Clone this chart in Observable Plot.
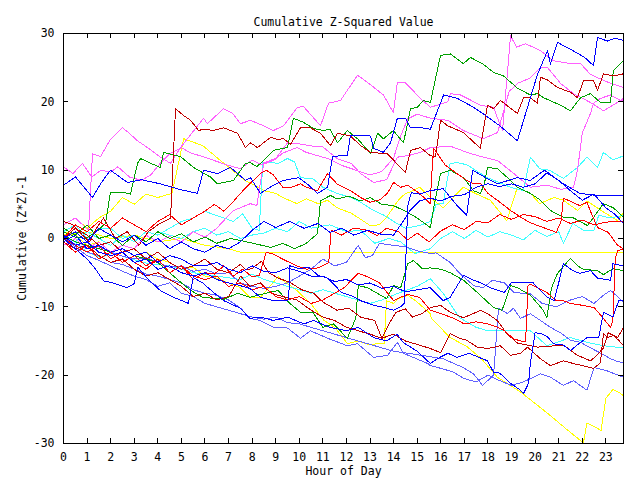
<!DOCTYPE html>
<html>
<head>
<meta charset="utf-8">
<script src="https://cdn.jsdelivr.net/npm/d3@7"></script>
<script src="https://cdn.jsdelivr.net/npm/@observablehq/plot@0.6"></script>
<style>
  html, body { margin: 0; padding: 0; background: white; }
</style>
</head>
<body>
<div id="chart"></div>
<script>
// ---- Data: each series is a list of [hour, cumulative (Z*Z)-1] ----
const hourTicks = d3.range(0, 24);
const valueTicks = [-30, -20, -10, 0, 10, 20, 30];

const B1 = [[0,7.8],[0.51,9],[1.23,6],[1.57,8],[1.99,10],[2.71,8.2],[3.3,8.6],[4.11,8],[4.9,7.2],[5.68,6.6],[5.94,10],[6.53,9.5],[7.08,10.4],[7.72,8.5],[7.93,8.9],[8.35,6.6],[8.9,7.8],[9.33,8.5],[9.97,8.9],[10.4,7.8],[10.77,6.6],[11.2,7.5],[11.41,12],[12.04,12.2],[12.17,15.1],[13.02,15],[13.15,13.2],[13.57,12.6],[13.87,14],[14.16,17.6],[14.5,17.6],[14.72,16.2],[15.2,16.2],[15.56,16],[16.12,21],[16.71,20.5],[17.39,19.2],[17.9,18],[18.5,16.5],[19.25,14.3],[20.1,24],[20.53,27.5],[20.65,25.5],[20.95,28.7],[21.6,27.5],[22.1,26.5],[22.48,25.3],[22.65,29.4],[23.07,28.9],[23.4,29.3],[23.75,29]];
const B2 = [[0,0.5],[0.5,-1],[1,-0.5],[1.5,-2],[2,-2.5],[2.5,-2],[3,-3.5],[3.5,-3],[4,-4.5],[4.5,-4],[5,-5],[5.5,-5.5],[6,-5],[6.5,-6],[7,-6.5],[7.5,-6.9],[7.9,-7.3],[8.35,-8.6],[8.9,-9.1],[9.55,-9],[9.6,-4],[10,-4.4],[10.4,-4.2],[10.8,-5.4],[11.2,-5.8],[11.8,-7.9],[12.3,-8.5],[12.6,-9.1],[13.2,-9.8],[13.6,-10.1],[14,-10.5],[14.3,-10],[14.45,-9.5],[14.6,4.8],[14.75,6.7],[15.1,6.5],[15.56,7],[16.1,7.3],[16.7,4.8],[17.1,3.4],[17.35,10],[17.9,8.9],[18.4,8],[19.25,8.9],[19.8,8.5],[20.4,10],[21.2,8],[21.9,6.6],[22.6,6.3],[23.2,6.3],[23.75,6.3]];
const B3 = [[0,0],[0.5,-1.5],[1,-3],[1.3,-4.2],[1.7,-6.2],[2.1,-6.5],[2.7,-7.2],[3,-6.6],[3.15,-4.2],[3.6,-6],[4.1,-7.6],[4.6,-8.5],[5.3,-9.5],[5.5,-5.7],[5.9,-6.5],[6.4,-8],[6.8,-9.1],[7.5,-10.2],[7.9,-11.7],[8.35,-11.5],[8.9,-12],[9.5,-11.5],[10.2,-12.5],[10.6,-12],[11.3,-13],[12,-13.5],[12.5,-13],[13.15,-14.5],[13.7,-15],[14.15,-14],[14.4,-15.2],[15,-16.5],[15.56,-18.3],[15.85,-17.6],[16.3,-16.8],[16.7,-17.4],[17.2,-16.8],[17.98,-17.9],[18.24,-19.6],[18.5,-19.7],[18.96,-21.2],[19.38,-22.2],[19.51,-22.7],[19.72,-21.2],[19.8,-18.3],[20,-13.8],[20.23,-13.9],[20.5,-14.3],[20.78,-15.4],[21.2,-15.6],[21.5,-16.4],[21.93,-15.2],[22.2,-14.5],[22.7,-14.5],[22.9,-10.8],[23.3,-11.5],[23.55,-9.1],[23.75,-9]];
const B4 = [[0,-0.5],[0.5,0.5],[1,-1.5],[1.5,-1],[2,-2],[2.5,-1.5],[3,-2.5],[3.5,-2],[4,-3.5],[4.5,-2.5],[5,-3],[5.5,-4],[6,-4],[6.5,-3.5],[7,-4.5],[7.5,-5],[8,-4],[8.5,-4.8],[9,-5],[9.5,-4.3],[10,-4.8],[10.5,-5.5],[11,-5.5],[11.5,-6.3],[12,-6],[12.5,-6.8],[13,-6.5],[13.5,-7.3],[14,-7],[14.5,-7.8],[15,-7.5],[15.56,-7.2],[16.1,-9.1],[16.4,-8.6],[16.96,-5.4],[17.4,-6.1],[17.7,-6.5],[18.1,-7.2],[18.7,-7.9],[19,-6.4],[19.5,-6.4],[19.9,-6.4],[20.1,-7.2],[20.53,-8.6],[20.8,-9.1],[20.95,-7.2],[21.2,-3.7],[21.6,-4.7],[21.9,-5.1],[22.35,-4.7],[22.65,-5.8],[23.2,-6.1],[23.3,-3.7],[23.75,-4]];
const B5 = [[0,0],[0.5,1],[1,-0.5],[1.5,1.5],[2,0.5],[2.5,-0.5],[3,0.5],[3.5,-1],[4,0],[4.5,-1.5],[5,-0.5],[5.5,-1.5],[6,-2],[6.5,-1],[7,-1.5],[7.5,-0.5],[8,1.2],[8.5,2.5],[9,1.6],[9.6,2.5],[10.2,1.5],[10.8,2.2],[11.3,0.9],[11.8,1.5],[12.3,0.5],[12.9,1.2],[13.5,0.6],[14,0.5],[14.5,3],[14.7,4.1],[15.1,5.5],[15.56,5.9],[16,5.5],[16.5,6.2],[17,6.4],[17.5,7.5],[18,8],[18.5,7.6],[19,8],[19.5,7.5],[20,8],[20.5,9.6],[21,8.5],[21.5,7],[22,5.6],[22.5,6.5],[23,4.5],[23.4,3.5],[23.75,2.2]];

const S1 = [[0,0],[0.5,-0.8],[1,-1.5],[1.5,-1.2],[2,-2],[2.5,-2.6],[3,-3],[3.5,-2.8],[4,-3.5],[4.5,-4.2],[5,-4],[5.5,-4.8],[6,-4.5],[6.5,-5.2],[7,-5],[7.5,-6.5],[8,-7],[8.5,-7.3],[9,-7],[9.5,-6.5],[10,-5.5],[10.5,-4.5],[11,-3],[11.5,-4],[12,-3.5],[12.5,-1],[12.8,-2.8],[13.1,-2.5],[13.4,-0.7],[14,-1],[14.5,-1.2],[15,-1.8],[15.56,-2.2],[15.8,-2.1],[16.4,-3.5],[16.8,-5.1],[17.4,-6.9],[17.8,-7.2],[18.2,-6.1],[18.7,-6.5],[19.1,-7.9],[19.8,-8.1],[20.3,-9.5],[20.9,-10],[21.5,-9],[22,-8.5],[22.5,-9.5],[22.9,-8.3],[23.2,-7.6],[23.5,-8.5],[23.75,-9.4]];
const S2 = [[0,0],[0.5,-1],[1,-2],[1.5,-2.5],[2,-3.5],[2.5,-3.8],[3,-4.5],[3.5,-5.2],[4,-5.5],[4.5,-6],[5,-6.5],[5.5,-7.5],[6,-8],[6.5,-8.3],[7,-9],[7.51,-10.2],[7.93,-11.7],[8.35,-12],[8.9,-13],[9.5,-13.1],[10.05,-14.6],[10.47,-13.5],[11.2,-14.6],[12.04,-15.7],[12.47,-15.4],[13.15,-17.4],[13.75,-17.1],[14.16,-15.2],[14.42,-16.8],[15.45,-18.3],[15.56,-18.6],[16,-19],[16.5,-19.5],[17,-20.5],[17.5,-21],[18,-20],[18.5,-20.8],[19,-21.5],[19.5,-21],[20.23,-19.8],[20.65,-20.3],[21.2,-21.5],[21.63,-20.8],[22.2,-22.2],[22.5,-18.9],[23,-19.3],[23.75,-20.3]];
const S3 = [[0,0],[0.5,-1.2],[1,-2.5],[1.5,-3.2],[2,-4],[2.5,-4.8],[3,-5.5],[3.5,-6],[4,-7],[4.5,-6.5],[5,-8],[5.5,-8.5],[6,-9.5],[6.5,-10],[7,-10.5],[7.5,-11],[8,-11.5],[8.5,-11.8],[9,-11.5],[9.5,-12.3],[10,-12.5],[11,-13.5],[12,-14.5],[13,-15.5],[14,-16.5],[15,-17],[15.56,-17.3],[16.1,-17.6],[16.96,-18.9],[17.39,-19.8],[17.77,-21.5],[18.24,-20],[18.45,-10.2],[18.83,-11],[19.08,-10.2],[19.38,-11.7],[19.8,-11],[20.23,-12],[20.65,-13],[21.08,-13.8],[21.5,-14.9],[21.93,-15.2],[22.35,-16],[22.9,-17],[23.2,-17.6],[23.5,-18],[23.75,-18.2]];

const R1 = [[0,0],[0.5,-1],[1,-2],[1.5,-1],[2,-3],[2.5,-2],[3,-3.5],[3.5,-4.5],[4,-3],[4.5,-5],[5,-4],[5.5,-5.5],[6,-6],[6.5,-5.5],[7,-7],[7.5,-6.5],[8,-7.5],[8.5,-7],[9,-8.5],[9.5,-9],[10,-8.5],[10.5,-9.5],[11,-9],[11.5,-8],[11.9,-7.2],[12.5,-5.1],[12.9,-5.6],[13.4,-6.5],[14,-9.1],[14.3,-8.6],[14.6,-8.2],[15.1,-8.6],[15.56,-10.5],[16,-11],[16.5,-11.6],[17,-12.5],[17.5,-12.2],[18,-12.5],[18.41,-13],[18.7,-13.5],[19.1,-14.7],[19.4,-15],[19.6,-15],[19.7,-6.9],[19.8,-6.7],[20.1,-7.2],[20.5,-7.9],[20.9,-9.1],[21.2,-9.1],[21.5,-9.5],[22.05,-9.8],[22.5,-10.1],[22.8,-11.3],[23.2,-13],[23.3,-12],[23.4,-2.9],[23.5,-1.8],[23.75,-1.5]];
const R2 = [[0,-0.5],[0.5,-2],[1,-1],[1.5,-3],[2,-2],[2.5,-3.5],[3,-2.5],[3.5,-4],[4,-3],[4.5,-5],[5,-4],[5.5,-6],[6,-5],[6.4,-5.2],[6.8,-4],[7.2,-5.5],[7.6,-4.5],[8,-5.6],[8.3,-5.4],[8.6,-2],[8.9,-2.3],[9.4,-3.2],[9.9,-4],[10.3,-4.5],[10.8,-4.3],[11.25,-3.5],[11.35,1.2],[11.8,0.5],[12.3,1.5],[12.8,1.3],[13.3,0.4],[13.7,1.5],[14.2,1],[14.6,-0.2],[15,0.8],[15.5,-0.5],[16,1.1],[16.5,2],[17,1.3],[17.5,2.5],[18,2.3],[18.5,3.5],[19,2.8],[19.5,3.5],[20,3.2],[20.5,2.5],[21,3],[21.5,2.2],[22,2.7],[22.5,2],[23,2.4],[23.75,2.5]];
const R3 = [[0,0],[0.5,2],[1,1],[1.5,2.5],[2,1.5],[2.5,3],[3,2],[3.5,1],[4,2.5],[4.5,3.5],[5,2],[5.5,3],[6,4],[6.4,5],[6.8,4],[7.1,5],[7.5,6.6],[7.9,8],[8.35,9.5],[8.6,10],[8.9,9.3],[9.3,7.5],[9.6,7.4],[10.05,8],[10.3,7.5],[10.77,7],[11.2,9.5],[11.6,8],[12.17,7],[12.6,6],[13,5.3],[13.45,5.7],[13.75,6.7],[14,8.2],[14.3,7.5],[14.6,7.8],[15.1,6.6],[15.56,5.1],[15.6,8.5],[15.7,13.2],[16.2,10.7],[17.1,8.5],[17.4,8],[17.7,8],[18,6.6],[18.4,5.6],[18.96,4.1],[19.4,3.1],[19.8,2.3],[20.35,1.6],[20.9,0.9],[21.1,2.5],[21.2,5.9],[21.6,5.3],[21.9,4.8],[22.2,5.3],[22.35,4],[22.65,1.6],[23.1,0.9],[23.5,-1],[23.75,-1.5]];

const DR1 = [[0,2.5],[0.4,2],[0.8,0.5],[1.1,-0.5],[1.4,1.5],[1.7,3],[2.2,0],[2.7,1],[3.2,-1],[3.6,1],[4,2],[4.54,3],[4.75,19],[5.09,18],[5.39,17.3],[5.73,15.8],[5.94,16],[6.36,15.8],[6.79,16.2],[7.08,15.8],[7.38,15.4],[7.72,13.3],[7.93,14],[8.23,13.3],[8.48,14],[8.78,14.8],[9.08,14.5],[9.33,14.6],[9.63,13.8],[10.05,16.2],[10.47,16.2],[10.9,15.4],[11.32,13.6],[11.62,15.4],[12.17,15],[12.6,13.6],[13.02,12.6],[13.74,12.4],[14.29,10.4],[14.5,9.7],[14.72,12.9],[15.14,13.3],[15.56,12.1],[15.78,12],[15.99,17.3],[16.29,16.5],[16.96,15.5],[17.68,13.2],[17.98,19.5],[18.24,19],[18.53,20.2],[19.25,18.3],[19.51,20.6],[19.8,20.6],[20.1,19.8],[20.23,23.6],[20.53,23.2],[20.95,22.1],[21.5,21.4],[21.8,20.6],[22.05,23.1],[22.48,23.1],[22.65,21.7],[22.9,24.1],[23.32,23.8],[23.75,24.1]];
const DR2 = [[0,-0.5],[0.5,-1.5],[1,-1],[1.5,-2.5],[2,-3.5],[2.5,-3],[3,-4.5],[3.5,-5.5],[4,-5],[4.5,-6],[5,-7],[5.5,-8.5],[6,-8],[6.5,-9],[7,-8.5],[7.51,-5.5],[7.9,-7],[8.35,-6.5],[8.8,-8],[9.3,-8.5],[9.9,-9],[10.5,-10.5],[11,-11.5],[11.5,-12],[12,-13],[12.5,-13.5],[13,-14],[13.5,-14.6],[14,-14],[14.5,-15],[15,-15.5],[15.56,-16.1],[15.99,-16.7],[16.4,-13.9],[16.8,-14.6],[17.1,-14.9],[17.55,-15.9],[17.98,-16.1],[18.53,-15.7],[18.96,-17.1],[19.38,-16.8],[19.68,-15.9],[20.23,-17.6],[20.65,-18.6],[21.2,-17.9],[21.63,-18.3],[22.48,-19],[22.77,-18.2],[22.9,-13.9],[23.07,-14.5],[23.32,-14.2],[23.55,-14.9],[23.75,-15.7]];
const DR3 = [[0,0],[0.5,1.5],[1,0.5],[1.5,-1],[2,-0.5],[2.5,-2],[3,-1.5],[3.5,-3],[4,-2],[4.5,-3.5],[5,-4.5],[5.5,-4],[6,-3],[6.5,-4.5],[7,-5],[7.5,-3.8],[7.75,-4.6],[8,-4.4],[8.4,-3.3],[8.7,-5],[9.1,-5.8],[9.6,-6.4],[10.1,-7.5],[10.6,-8],[11,-9.3],[11.6,-10.5],[12.1,-10.2],[12.6,-11.5],[13.2,-12],[13.5,-14.6],[13.8,-12.5],[14.1,-10.8],[14.5,-10.3],[14.8,-11.5],[15.2,-11],[15.56,-10.1],[16,-9.8],[16.4,-10.8],[16.96,-11.6],[17.7,-10.5],[17.98,-11],[18.4,-12],[18.8,-13.9],[19.25,-15.3],[19.66,-15.6],[20.1,-15.9],[21.2,-15.6],[21.8,-17.1],[22.35,-17.9],[22.65,-17],[22.9,-16],[23.1,-13.8],[23.5,-14.5],[23.75,-13]];

const G1 = [[0,1],[0.5,0.2],[0.93,0],[1.4,1],[1.78,2.2],[1.99,6.7],[2.5,6.8],[2.84,6.5],[3.14,11],[3.27,11.7],[3.7,11],[4.11,10.4],[4.24,12.6],[4.96,12],[5.51,10.4],[6.23,9],[6.53,8],[7.21,8.5],[7.72,11],[7.93,11.1],[8.2,10.5],[8.48,11.4],[8.9,12.9],[9.5,13.3],[9.75,17.6],[10.18,17],[10.6,16.1],[11.03,15.8],[11.3,16],[11.62,14],[12.04,15.8],[12.5,14.5],[13.02,12.4],[13.32,15.4],[13.57,14.6],[13.99,15.8],[14.42,14],[14.72,19],[15,19.2],[15.27,20.2],[15.56,19.9],[15.99,26.8],[16.41,27],[16.96,25.6],[17.26,26.5],[17.8,25.5],[18.24,24.3],[18.66,23.8],[19.25,22],[19.8,21],[20.1,21.2],[20.36,20.6],[21.08,19.5],[21.5,18.7],[21.93,20.6],[22.35,21.2],[22.77,19.9],[23.2,19.9],[23.32,24.6],[23.75,26]];
const G2 = [[0,1.5],[0.5,0.5],[1,2],[1.5,0],[2,0.5],[2.5,-1],[3,0.5],[3.5,-0.5],[4,1],[4.5,0],[5,0.7],[5.5,-0.5],[6,0.2],[6.5,-0.7],[7.1,0],[7.51,-0.3],[8.05,-0.7],[8.78,-1.3],[9.3,-0.7],[9.8,-1.5],[10.3,-0.7],[10.77,0.7],[10.9,5.5],[11.32,6.3],[11.6,5.8],[12.1,6.2],[12.6,5.5],[13,6],[13.5,5],[14,4.8],[14.5,4],[15,3],[15.4,2],[15.56,1.6],[15.7,4.5],[15.99,9.5],[16.41,10],[16.96,8.9],[17.39,7],[17.68,6.6],[17.85,8],[17.98,10.4],[18.41,10.2],[18.83,8.9],[19.25,7.5],[19.8,6.6],[20.23,5.6],[20.65,4.1],[21.2,3.1],[21.63,3],[22.22,1.9],[22.48,3.1],[22.9,5.1],[23.32,4.5],[23.75,3.1]];
const G3 = [[0,0.5],[0.5,-0.5],[1,-1],[1.5,-1.5],[2,-2],[2.5,-1.5],[3,-2.5],[3.5,-3],[4,-3.5],[4.5,-5],[5,-6.5],[5.4,-7.6],[5.9,-8.6],[6.8,-8.9],[7.4,-8],[7.9,-8.6],[8.35,-8.2],[9.1,-7.6],[9.6,-9.5],[10.05,-10.8],[10.6,-10.9],[11,-13],[11.45,-12.5],[12.04,-14.6],[12.4,-11.6],[12.5,-6.9],[12.9,-7.2],[13.45,-8.3],[13.7,-8.8],[14,-6.9],[14.3,-7.2],[14.6,-3.7],[14.85,-3.2],[15.2,-4.4],[15.56,-4.3],[16,-4.5],[16.4,-5],[16.96,-6.1],[17.55,-7.9],[18.24,-10.1],[18.6,-10.5],[18.96,-6.9],[19.25,-7.2],[19.8,-8.3],[20.35,-10.5],[20.5,-11.6],[20.7,-7.2],[20.95,-5.1],[21.5,-2.9],[21.8,-4],[22.05,-4.5],[22.65,-4.7],[22.9,-5.3],[23.3,-4.4],[23.75,-4.7]];

const M1 = [[0,2],[0.5,3],[1.06,1.2],[1.23,12.4],[1.57,12],[1.99,14.5],[2.5,16.2],[2.76,15.5],[3.14,14.3],[3.69,13],[4.11,11.9],[4.54,11],[4.96,13.3],[5.94,17.6],[6.1,16.8],[6.79,19],[7.17,18.3],[7.51,16.8],[7.93,17.3],[8.48,16.5],[8.9,15.8],[9.33,16.5],[9.92,19.2],[10.18,19.3],[10.9,16.5],[11.24,19.8],[11.75,20.2],[12.47,23.9],[13.02,22.5],[13.57,21],[13.99,18.4],[14.16,22.8],[14.5,22.8],[15.14,20.5],[15.56,19.2],[16.29,20],[16.41,21.2],[16.84,21],[17.13,20.5],[17.68,19.5],[18.24,19.2],[18.41,17.6],[18.62,15.8],[18.96,29.7],[19.21,28],[19.6,28.5],[20.23,27.5],[20.78,26],[21.5,25.6],[21.93,25.6],[22.35,24],[23.2,22.7],[23.75,22.1]];
const M2 = [[0,-1],[0.5,0],[1,-1.5],[1.5,-0.5],[2,-2],[2.5,-1],[3,-1.5],[3.5,0.5],[4,-0.5],[4.5,0.3],[5,-0.5],[5.5,1],[6,0.2],[6.5,1.5],[6.79,2.6],[7.21,4.1],[7.93,5.1],[8.2,4.8],[8.35,8.2],[8.5,11.1],[9,11.7],[9.5,14],[10.1,13.8],[10.6,13.5],[11,13.4],[11.6,11.7],[12.2,11],[12.6,9.5],[13.15,8.2],[13.7,8.6],[14.16,11.9],[14.7,12.2],[15.14,12.6],[15.56,13.3],[16.41,13.5],[17.2,12.5],[17.7,12],[18.41,11.4],[19.1,9.5],[19.8,7.5],[20.5,7.8],[21.1,7.2],[21.63,7.5],[21.8,10],[22,15.4],[22.35,18.3],[22.48,19.8],[22.77,20.5],[23.2,21],[23.62,20.2],[23.75,20.3]];
const M3 = [[0,10.5],[0.4,9.5],[0.8,11],[1.2,9],[1.6,10],[2,9.7],[2.3,10.5],[2.8,9],[3.3,8.5],[3.7,9.3],[4.1,11],[4.5,12.4],[5,13.3],[5.4,12.5],[5.9,12],[6.4,11.4],[6.9,10.8],[7.5,10.2],[8,11.5],[8.4,10.8],[8.9,11.4],[9.3,12.5],[9.9,13.3],[10.3,12.6],[10.8,12.1],[11.3,11.6],[11.8,10.7],[12.4,10],[13,9.3],[13.5,9.8],[14,11.8],[14.3,15],[14.6,17.5],[15,18.2],[15.56,17.6],[16.3,17.3],[16.96,15.8],[17.8,14.6],[18.41,15.5],[18.9,21.5],[19.25,22.7],[19.8,23.5],[20.23,25],[20.53,25],[21.08,22.7],[21.63,21.2],[22.35,19.9],[22.9,18.7],[23.3,19.5],[23.75,20.5]];

const C1 = [[0,0.5],[0.5,-0.5],[1,1],[1.5,0],[2,-1],[2.5,0.5],[3,-0.5],[3.5,1],[4,0.5],[4.5,1.5],[5,2.5],[5.5,3],[6,4],[6.36,3.5],[6.8,3],[7.2,2.5],[7.6,3.6],[8,1.5],[8.3,1.2],[8.45,11.1],[8.8,11.1],[9.1,11],[9.5,11.7],[9.8,11.2],[10.05,8.9],[10.6,8.7],[11,7.5],[11.6,6.6],[12.2,6],[12.6,5.3],[13.15,4.1],[13.6,3.4],[14,2.5],[14.5,1.5],[15.1,1.9],[15.56,2.5],[15.8,5],[16.1,5.1],[16.4,11],[16.7,11.1],[17.1,10.8],[17.98,8.9],[18.96,7.5],[19.5,7],[19.8,11.9],[20.2,10.2],[20.6,10],[21.2,8.8],[21.8,10.4],[22.2,11.9],[22.65,10.4],[22.9,12.6],[23.3,11.5],[23.75,12.1]];
const C2 = [[0,1],[0.5,2],[1,0],[1.5,1.5],[2,1.5],[2.5,0],[3,0.5],[3.5,-0.5],[4,1],[4.5,0.5],[5,0],[5.5,1],[6,1.5],[6.5,0.5],[7,1],[7.5,0],[8,0.5],[8.5,0.8],[9,1.5],[9.5,1],[10,2.5],[10.5,1.5],[11.3,2],[12,1],[12.6,1.2],[13.2,-0.7],[13.8,0],[14.3,-0.5],[14.9,-2.2],[15.56,-1.5],[16,0],[16.5,1],[17,0],[17.5,1.2],[18,0.2],[18.5,1],[19,0.5],[19.5,-0.2],[20,1.2],[20.5,0.3],[21,1],[21.2,-0.7],[21.6,2.2],[22.05,1.2],[22.5,1.2],[22.7,3.4],[23.2,3],[23.75,3.4]];
const C3 = [[0,0],[0.4,-0.3],[1,-2],[1.6,-2.8],[2.1,-2.1],[2.7,-2.8],[3.6,-3.7],[4.5,-4],[5.5,-5],[6.5,-5.5],[7.5,-6],[8,-5.2],[8.5,-6],[9.5,-7],[10.5,-8],[11,-7.5],[12,-8.5],[13,-9.5],[13.5,-9],[14.2,-8],[15,-7],[15.56,-5.9],[16.1,-8],[16.8,-11.6],[17.5,-13],[18,-13.5],[19,-13.5],[19.8,-13.5],[20.5,-15.7],[21.5,-14.5],[22.2,-15.2],[22.9,-15.7],[23.75,-16]];

const Y1 = [[0,1],[0.5,0.5],[1,-1],[1.5,-0.5],[2,-2],[2.5,-1.5],[3,-2.5],[3.5,-2],[4,-3],[4.5,-3.5],[5,-4.5],[5.5,-4.2],[6,-5.5],[6.5,-5.8],[7,-6.5],[7.5,-7.2],[7.9,-8.6],[8.35,-8.6],[9.1,-5.6],[9.9,-7.6],[10.5,-9.6],[11.05,-12],[11.5,-13],[12.05,-15.4],[12.5,-15],[13,-15.6],[13.4,-15.3],[13.6,-15.4],[13.7,-9.1],[14,-9.5],[14.2,-8.8],[14.6,-8.3],[15,-9.3],[15.56,-11],[15.6,-11.7],[16.4,-14.5],[17.1,-15.8],[17.7,-17.5],[18.4,-20.3],[19.4,-22.5],[20.5,-25.5],[21.4,-28.1],[22.05,-29.9],[22.2,-27],[22.5,-27.5],[22.8,-28.1],[23,-23.4],[23.3,-22.1],[23.55,-22.5],[23.75,-23]];
const Y2 = [[0,2],[0.5,3],[1,1.5],[1.5,3],[2,4],[2.5,6],[3,5],[3.5,6.5],[4,6],[4.6,6.6],[5.1,14.6],[5.9,13.6],[6.8,11],[7.7,8.5],[8.1,7.8],[8.5,7],[9,6.6],[9.3,6],[9.9,5.1],[10.3,5.8],[10.8,5.1],[11.2,5.6],[11.6,4.5],[12.2,3.7],[12.7,2.6],[13,1.9],[13.4,2],[13.7,3.1],[14.2,5.6],[14.5,6.6],[14.7,6.8],[15.1,7.5],[15.6,5.9],[16.1,4.5],[16.96,7.5],[17.4,6.7],[18.1,5.6],[18.8,2.6],[19.25,7.5],[19.8,6.6],[20.2,5.1],[20.8,6],[21.2,5.6],[21.8,4.1],[22.2,5.5],[22.8,4.1],[23.5,2.6],[23.75,3.8]];
const Y3 = [[0,0.5],[1,1],[2,0],[3,0.5],[4,-0.5],[5,0],[6,-1],[7,-1.5],[7.5,-2],[23.75,-2]];

const BLUE = "#0000ff", SLATE = "#6060ff", RED = "#ff0000", DARKRED = "#c00000",
      GREEN = "#00a000", MAGENTA = "#ff60ff", CYAN = "#40ffff", YELLOW = "#ffff00";

const series = [
  {pts: Y1, c: YELLOW}, {pts: Y2, c: YELLOW}, {pts: Y3, c: YELLOW},
  {pts: C1, c: CYAN}, {pts: C2, c: CYAN}, {pts: C3, c: CYAN},
  {pts: M1, c: MAGENTA}, {pts: M2, c: MAGENTA}, {pts: M3, c: MAGENTA},
  {pts: S1, c: SLATE}, {pts: S2, c: SLATE}, {pts: S3, c: SLATE},
  {pts: G1, c: GREEN}, {pts: G2, c: GREEN}, {pts: G3, c: GREEN},
  {pts: DR1, c: DARKRED}, {pts: DR2, c: DARKRED}, {pts: DR3, c: DARKRED},
  {pts: R1, c: RED}, {pts: R2, c: RED}, {pts: R3, c: RED},
  {pts: B1, c: BLUE}, {pts: B2, c: BLUE}, {pts: B3, c: BLUE}, {pts: B4, c: BLUE}, {pts: B5, c: BLUE}
];

const FONT = "'DejaVu Sans Mono', 'Liberation Mono', monospace";

const chart = Plot.plot({
  width: 640,
  height: 480,
  marginLeft: 63,
  marginRight: 17,
  marginTop: 33,
  marginBottom: 37,
  style: {background: "white", fontFamily: FONT, fontSize: "11.5px", color: "black"},
  x: {domain: [0, 23.75]},
  y: {domain: [-30, 30]},
  marks: [
    ...series.map(s => Plot.line(s.pts, {x: d => d[0], y: d => d[1], stroke: s.c, strokeWidth: 1, shapeRendering: "crispEdges"})),
    Plot.tickX(hourTicks, {x: d => d, insetTop: 405, stroke: "black", shapeRendering: "crispEdges"}),
    Plot.tickX(hourTicks, {x: d => d, insetBottom: 405, stroke: "black", shapeRendering: "crispEdges"}),
    Plot.tickY(valueTicks, {y: d => d, insetRight: 555, stroke: "black", shapeRendering: "crispEdges"}),
    Plot.tickY(valueTicks, {y: d => d, insetLeft: 555, stroke: "black", shapeRendering: "crispEdges"}),
    Plot.frame({stroke: "black", shapeRendering: "crispEdges"}),
    Plot.axisX({ticks: hourTicks, tickSize: 0, tickPadding: 9, tickFormat: d => String(d),
                label: "Hour of Day", labelAnchor: "center", labelArrow: "none", labelOffset: 31}),
    Plot.axisY({ticks: valueTicks, tickSize: 0, tickPadding: 9, tickFormat: d => String(d),
                label: "Cumulative (Z*Z)-1", labelAnchor: "center", labelArrow: "none", labelOffset: 46}),
    Plot.text(["Cumulative Z-Squared Value"], {frameAnchor: "top", dy: -16, fontSize: 11.5, fill: "black"})
  ]
});

document.getElementById("chart").appendChild(chart);
</script>
</body>
</html>
